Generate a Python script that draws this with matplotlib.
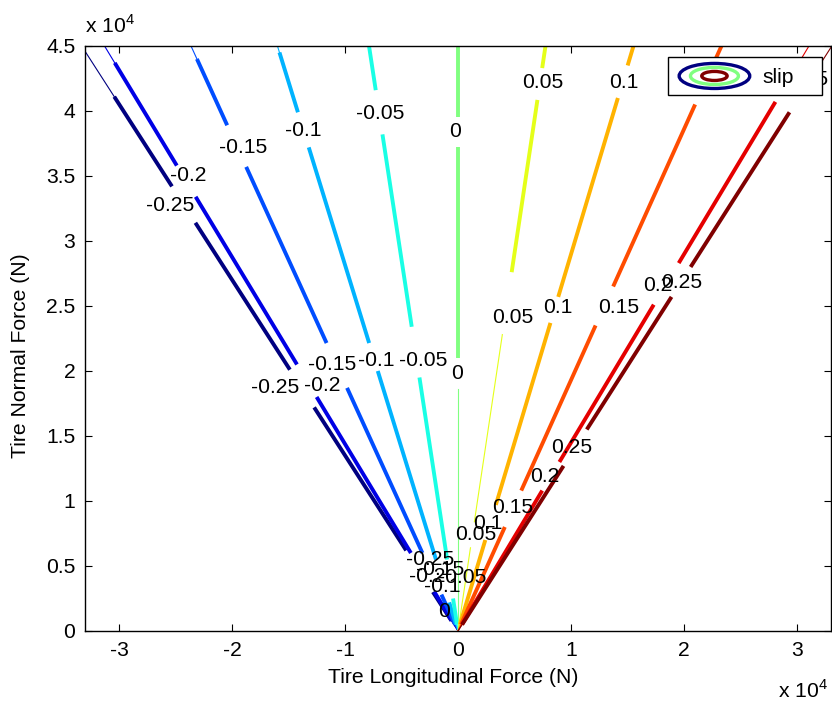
import numpy as np
import matplotlib.pyplot as plt
from matplotlib.patches import Ellipse
from matplotlib.legend_handler import HandlerBase
from matplotlib.lines import Line2D

plt.rcParams['font.family'] = ['Liberation Sans', 'DejaVu Sans']
plt.rcParams['mathtext.fontset'] = 'custom'
plt.rcParams['mathtext.rm'] = 'Liberation Sans'

FS = 15.2

# forces are in units of 1e4 N
slip_levels = [-0.25, -0.2, -0.15, -0.1, -0.05, 0.0, 0.05, 0.1, 0.15, 0.2, 0.25]
# each slip contour is (nearly) a ray Fx = ratio * Fz
force_ratio = [-0.74, -0.695, -0.525, -0.355, -0.175, 0.0, 0.172, 0.345, 0.518, 0.69, 0.735]

# Fz ranges where the contour is drawn dense (thick) or sparse (thin)
thick_spans = [
    [(3.42, 4.11), (2.01, 3.14), (0.62, 1.72), (0.08, 0.30)],
    [(3.58, 4.37), (2.05, 3.34), (0.60, 1.80), (0.08, 0.30)],
    [(3.89, 4.40), (2.215, 3.57), (0.60, 1.87), (0.05, 0.28)],
    [(3.99, 4.45), (2.215, 3.72), (0.55, 2.00), (0.05, 0.22)],
    [(4.16, 4.50), (2.34, 3.82), (0.55, 1.95), (0.05, 0.25)],
    [(3.95, 4.50), (2.10, 3.72)],
    [(4.33, 4.50), (2.76, 4.085)],
    [(4.35, 4.50), (2.57, 4.10), (0.97, 2.37), (0.05, 0.70)],
    [(4.40, 4.50), (2.65, 4.05), (1.08, 2.35), (0.05, 0.80)],
    [(2.83, 4.07), (1.30, 2.51), (0.05, 1.08)],
    [(2.80, 3.99), (1.55, 2.57), (0.05, 1.27)],
]
thin_spans = [
    [(4.11, 4.50), (0.0, 0.08)],
    [(4.37, 4.50), (0.0, 0.08)],
    [(4.40, 4.50), (0.0, 0.05)],
    [(4.45, 4.50), (0.0, 0.05)],
    [(0.0, 0.05)],
    [(0.0, 1.86)],
    [(0.84, 2.28), (0.0, 0.64)],
    [(0.0, 0.05)],
    [(0.0, 0.05)],
    [(4.30, 4.50), (0.0, 0.05)],
    [(4.35, 4.50), (0.0, 0.05)],
]
# contour label positions (Fx, Fz)
label_pos = [
    [(-2.55, 3.27), (-1.62, 1.87), (-0.25, 0.55)],
    [(-2.39, 3.50), (-1.20, 1.89), (-0.27, 0.42)],
    [(-1.90, 3.72), (-1.11, 2.05), (-0.16, 0.47)],
    [(-1.37, 3.85), (-0.72, 2.08), (-0.14, 0.34)],
    [(-0.69, 3.98), (-0.31, 2.08), (0.04, 0.41)],
    [(-0.03, 3.84), (-0.01, 1.98), (-0.12, 0.15)],
    [(0.75, 4.22), (0.48, 2.41), (0.16, 0.74)],
    [(1.47, 4.22), (0.88, 2.49), (0.26, 0.83)],
    [(2.18, 4.20), (1.42, 2.49), (0.48, 0.95)],
    [(2.89, 4.20), (1.77, 2.66), (0.77, 1.19)],
    [(3.09, 4.24), (1.98, 2.68), (1.01, 1.41)],
]
x_ticks = [-3, -2, -1, 0, 1, 2, 3]
y_ticks = [0, 0.5, 1, 1.5, 2, 2.5, 3, 3.5, 4, 4.5]


def matlab_jet(t):
    r = np.clip(1.5 - abs(4 * t - 3), 0, 1)
    g = np.clip(1.5 - abs(4 * t - 2), 0, 1)
    b = np.clip(1.5 - abs(4 * t - 1), 0, 1)
    return (r, g, b)


class ContourIcon(HandlerBase):
    """Nested rings like MATLAB's contour legend entry"""
    def create_artists(self, legend, orig_handle, xdescent, ydescent,
                       width, height, fontsize, trans):
        cx = width / 2 - xdescent
        cy = height / 2 - ydescent
        arts = []
        for scale, c in [(1.0, matlab_jet(0.0)), (0.68, matlab_jet(0.5)), (0.36, matlab_jet(1.0))]:
            arts.append(Ellipse((cx, cy), 0.88 * width * scale, height * scale,
                                fill=False, edgecolor=c, lw=2.4, transform=trans))
        return arts


fig = plt.figure(figsize=(8.32, 7.04), dpi=100)
ax = fig.add_axes([0.1022, 0.1037, 0.8966, 0.831])

lo, hi = min(slip_levels), max(slip_levels)
for lvl, k, thick, thin, labs in zip(slip_levels, force_ratio, thick_spans, thin_spans, label_pos):
    color = matlab_jet((lvl - lo) / (hi - lo))
    for a, b in thick:
        fz = np.array([a, b])
        ax.plot(k * fz, fz, color=color, lw=2.8, solid_capstyle='butt')
    for a, b in thin:
        fz = np.array([a, b])
        ax.plot(k * fz, fz, color=color, lw=0.8)
    for fx, fz in labs:
        ax.text(fx, fz, f"{lvl:g}", ha='center', va='center', fontsize=FS, zorder=5)

ax.set_xlim(-3.3, 3.3)
ax.set_ylim(0, 4.5)
ax.set_xticks(x_ticks)
ax.set_xticklabels([f"{v:g}" for v in x_ticks])
ax.set_yticks(y_ticks)
ax.set_yticklabels([f"{v:g}" for v in y_ticks])
ax.tick_params(direction='in', top=True, right=True, length=5, width=0.8,
               labelsize=FS, pad=7)
for s in ax.spines.values():
    s.set_linewidth(1.0)

ax.set_xlabel("Tire Longitudinal Force (N)", fontsize=FS)
ax.set_ylabel("Tire Normal Force (N)", fontsize=FS)
ax.xaxis.set_label_coords(0.493, -0.064)
ax.yaxis.set_label_coords(-0.074, 0.47)

ax.text(0.0, 1.022, r"x 10$^{4}$", transform=ax.transAxes, fontsize=FS,
        ha='left', va='baseline')
ax.text(0.929, -0.1145, r"x 10$^{4}$", transform=ax.transAxes, fontsize=FS,
        ha='left', va='baseline')

proxy = Line2D([], [])
leg = ax.legend([proxy], ["slip"], handler_map={Line2D: ContourIcon()},
                loc='upper left', bbox_to_anchor=(0.7815, 0.913, 0.2065, 0.068),
                mode='expand', borderaxespad=0, fontsize=FS, handlelength=3.8,
                handleheight=1.45, handletextpad=0.35, borderpad=0.3,
                fancybox=False, framealpha=1)
leg.get_frame().set_edgecolor('black')
leg.get_frame().set_linewidth(1.0)
leg.set_zorder(10)

fig.savefig("out.png", dpi=100)
